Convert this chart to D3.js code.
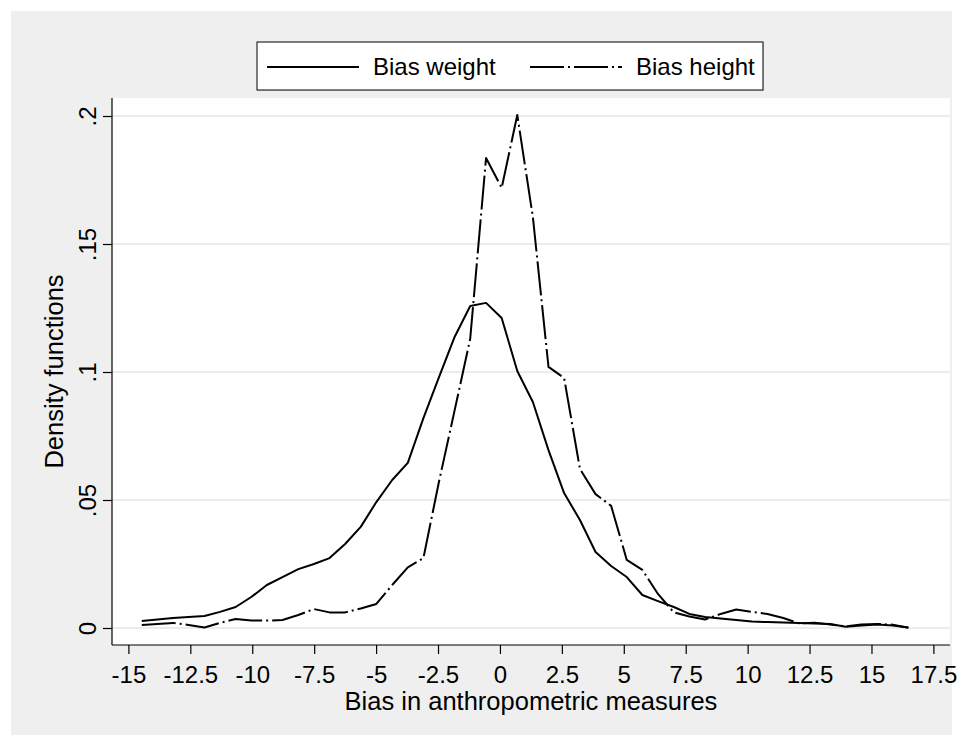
<!DOCTYPE html>
<html>
<head>
<meta charset="utf-8">
<script src="https://cdn.jsdelivr.net/npm/d3@7"></script>
<style>
  body { margin: 0; background: #ffffff; }
  text { font-family: "Liberation Sans", Arial, sans-serif; fill: #000; }
</style>
</head>
<body>
<script>
// kernel density evaluation points (50 points, same grid for both series)
var biasX = [-14.46, -13.83, -13.20, -12.57, -11.93, -11.30, -10.67, -10.04, -9.41, -8.78,
  -8.14, -7.51, -6.88, -6.25, -5.62, -4.99, -4.35, -3.72, -3.09, -2.46,
  -1.83, -1.20, -0.56, 0.07, 0.70, 1.33, 1.96, 2.59, 3.23, 3.86,
  4.49, 5.12, 5.75, 6.38, 7.02, 7.65, 8.28, 8.91, 9.54, 10.17,
  10.80, 11.44, 12.07, 12.70, 13.33, 13.96, 14.59, 15.23, 15.86, 16.49];

var biasWeight = [0.0027, 0.0033, 0.0039, 0.0043, 0.0047, 0.0063, 0.0082, 0.0121, 0.0168, 0.0199,
  0.0230, 0.0250, 0.0273, 0.0328, 0.0395, 0.0492, 0.0578, 0.0645, 0.0820, 0.0980,
  0.1137, 0.1258, 0.1270, 0.1211, 0.1004, 0.0883, 0.0695, 0.0527, 0.0422, 0.0297,
  0.0242, 0.0199, 0.0129, 0.0105, 0.0082, 0.0055, 0.0043, 0.0037, 0.0031, 0.0025,
  0.0023, 0.0021, 0.0020, 0.0018, 0.0016, 0.0005, 0.0010, 0.0014, 0.0010, 0.0002];

var biasHeight = [0.0012, 0.0016, 0.0020, 0.0012, 0.0002, 0.0020, 0.0035, 0.0029, 0.0029, 0.0031,
  0.0051, 0.0074, 0.0061, 0.0061, 0.0076, 0.0094, 0.0168, 0.0237, 0.0273, 0.0572,
  0.0850, 0.1130, 0.1836, 0.1719, 0.2004, 0.1605, 0.1020, 0.0977, 0.0621, 0.0523,
  0.0477, 0.0266, 0.0227, 0.0133, 0.0061, 0.0045, 0.0033, 0.0055, 0.0072, 0.0063,
  0.0055, 0.0039, 0.0018, 0.0021, 0.0014, 0.0006, 0.0014, 0.0016, 0.0013, 0.0001];

var xTicks = [-15, -12.5, -10, -7.5, -5, -2.5, 0, 2.5, 5, 7.5, 10, 12.5, 15, 17.5];
var yTicks = [0, 0.05, 0.1, 0.15, 0.2];
var seriesNames = ["Bias weight", "Bias height"];

// chart dimensions
var width = 963;
var height = 746;
var plot = { left: 112, right: 950, top: 98, bottom: 645 };

var dashHeight = "34,4,2,4";

var svg = d3.select('body')
  .append('svg')
  .attr('width', width)
  .attr('height', height);

// outer gray graph region
svg.append('rect')
  .attr('x', 11).attr('y', 11)
  .attr('width', 941).attr('height', 724)
  .attr('fill', '#efefef');

// white plot region
svg.append('rect')
  .attr('x', plot.left).attr('y', plot.top)
  .attr('width', plot.right - plot.left)
  .attr('height', plot.bottom - plot.top)
  .attr('fill', '#ffffff');

var x = d3.scaleLinear().domain([-15, 17.5]).range([128.4, 933.4]);
var y = d3.scaleLinear().domain([0, 0.2]).range([628, 116]);

// gridlines
svg.selectAll('.grid')
  .data(yTicks)
  .enter()
  .append('line')
  .attr('x1', plot.left).attr('x2', plot.right)
  .attr('y1', function(d) { return y(d); })
  .attr('y2', function(d) { return y(d); })
  .attr('stroke', '#e6e6e6')
  .attr('stroke-width', 1.5);

// y axis
var yAxis = d3.axisLeft(y)
  .tickValues(yTicks)
  .tickSize(9)
  .tickPadding(8)
  .tickFormat(function(d) { return d === 0 ? "0" : d3.format(".2~f")(d).replace(/^0/, ""); });

var gy = svg.append('g')
  .attr('transform', 'translate(' + plot.left + ',0)')
  .call(yAxis);
gy.select('.domain').attr('d', 'M0,' + plot.top + 'V' + plot.bottom).attr('stroke', '#000').attr('stroke-width', 1.2);
gy.selectAll('.tick line').attr('stroke', '#000').attr('stroke-width', 1.2);
gy.selectAll('.tick text')
  .attr('font-size', 24)
  .attr('x', null).attr('dy', null)
  .attr('text-anchor', 'middle')
  .attr('transform', 'translate(-16,0) rotate(-90)')
  .attr('y', 0);

// x axis
var xAxis = d3.axisBottom(x)
  .tickValues(xTicks)
  .tickSize(9)
  .tickPadding(6)
  .tickFormat(function(d) { return String(d); });

var gx = svg.append('g')
  .attr('transform', 'translate(0,' + plot.bottom + ')')
  .call(xAxis);
gx.select('.domain').attr('d', 'M' + plot.left + ',0H' + plot.right).attr('stroke', '#000').attr('stroke-width', 1.2);
gx.selectAll('.tick line').attr('stroke', '#000').attr('stroke-width', 1.2);
gx.selectAll('.tick text').attr('font-size', 24).attr('dy', null).attr('y', 38);

// axis titles
svg.append('text')
  .attr('x', (plot.left + plot.right) / 2)
  .attr('y', 710)
  .attr('text-anchor', 'middle')
  .attr('font-size', 25.5)
  .text('Bias in anthropometric measures');

svg.append('text')
  .attr('transform', 'translate(63,' + ((plot.top + plot.bottom) / 2) + ') rotate(-90)')
  .attr('text-anchor', 'middle')
  .attr('font-size', 25.5)
  .text('Density functions');

// density lines
var line = d3.line()
  .x(function(d) { return x(d[0]); })
  .y(function(d) { return y(d[1]); });

svg.append('path')
  .datum(d3.zip(biasX, biasWeight))
  .attr('d', line)
  .attr('fill', 'none')
  .attr('stroke', '#000')
  .attr('stroke-width', 2)
  .attr('stroke-linejoin', 'round');

svg.append('path')
  .datum(d3.zip(biasX, biasHeight))
  .attr('d', line)
  .attr('fill', 'none')
  .attr('stroke', '#000')
  .attr('stroke-width', 2)
  .attr('stroke-linejoin', 'round')
  .attr('stroke-dasharray', dashHeight);

// legend
var legend = svg.append('g').attr('transform', 'translate(257,42)');
legend.append('rect')
  .attr('x', 1).attr('y', 1)
  .attr('width', 506).attr('height', 48)
  .attr('fill', '#d9d9d9');
legend.append('rect')
  .attr('width', 506).attr('height', 48)
  .attr('fill', '#fff')
  .attr('stroke', '#000')
  .attr('stroke-width', 1);

var legendItems = legend.selectAll('.legend')
  .data(seriesNames)
  .enter()
  .append('g')
  .attr('transform', function(d, i) { return 'translate(' + (10 + i * 263) + ',0)'; });

legendItems.append('line')
  .attr('x1', 0).attr('x2', 92)
  .attr('y1', 25).attr('y2', 25)
  .attr('stroke', '#000')
  .attr('stroke-width', 2)
  .attr('stroke-dasharray', function(d, i) { return i === 1 ? dashHeight : null; });

legendItems.append('text')
  .attr('x', 106)
  .attr('y', 33)
  .attr('font-size', 24)
  .text(function(d) { return d; });
</script>
</body>
</html>
